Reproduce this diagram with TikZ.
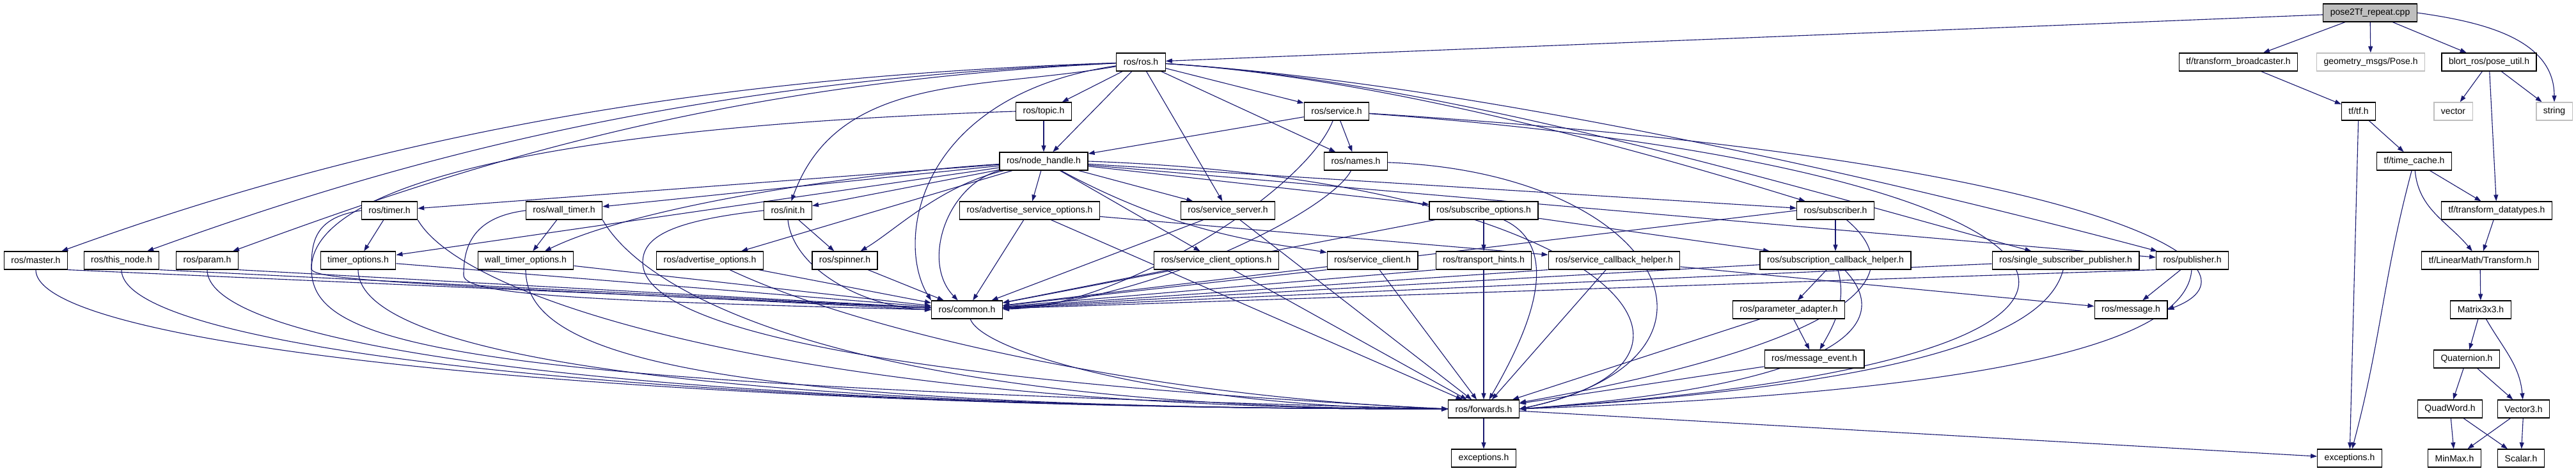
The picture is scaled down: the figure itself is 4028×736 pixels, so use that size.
\documentclass[tikz,border=0pt]{standalone}
\usepackage{fontspec}
\setmainfont{Liberation Sans}
\usetikzlibrary{arrows.meta}
\definecolor{depblue}{HTML}{191970}
\definecolor{extgrey}{HTML}{BFBFBF}
\pgfdeclarelayer{edges}
\pgfsetlayers{edges,main}
\begin{document}
\begin{tikzpicture}[x=0.25pt, y=0.25pt,
    every node/.style={draw=black, fill=white, line width=0.3pt, minimum height=7pt,
      inner xsep=2.75pt, inner ysep=0pt, font=\fontsize{3.5}{4}\selectfont},
    ext/.style={draw=extgrey},
    dep/.style={draw=depblue, line width=0.28pt, -{Triangle[length=2.5pt,width=1.75pt]}},
    bus/.style={out=-90, in=180, out distance=32pt, in distance=300pt}]
  \useasboundingbox (0,0) rectangle (4028,-736);

  \node[fill=extgrey] (cpp) at (3706,-20) {pose2Tf\_repeat.cpp};

  \node (ros) at (1784,-97) {ros/ros.h};
  \node (tfb) at (3500,-97) {tf/transform\_broadcaster.h};
  \node[ext] (pose) at (3707,-97) {geometry\_msgs/Pose.h};
  \node (pu) at (3892,-97) {blort\_ros/pose\_util.h};

  \node (topic) at (1632,-174) {ros/topic.h};
  \node (service) at (2090,-174) {ros/service.h};
  \node (tf) at (3688,-174) {tf/tf.h};
  \node[ext] (vector) at (3836,-174) {vector};
  \node[ext] (string) at (3994,-174) {string};

  \node (nh) at (1632,-252) {ros/node\_handle.h};
  \node (names) at (2120,-252) {ros/names.h};
  \node (tc) at (3775,-252) {tf/time\_cache.h};

  \node (timer) at (609,-329) {ros/timer.h};
  \node (wtimer) at (882,-329) {ros/wall\_timer.h};
  \node (init) at (1232,-329) {ros/init.h};
  \node (aso) at (1610,-329) {ros/advertise\_service\_options.h};
  \node (ss) at (1920,-329) {ros/service\_server.h};
  \node (subo) at (2320,-329) {ros/subscribe\_options.h};
  \node (sub) at (2870,-329) {ros/subscriber.h};
  \node (td) at (3904,-329) {tf/transform\_datatypes.h};

  \node (master) at (56,-407) {ros/master.h};
  \node (thisnode) at (190,-407) {ros/this\_node.h};
  \node (param) at (324,-407) {ros/param.h};
  \node (topt) at (560,-407) {timer\_options.h};
  \node (wtopt) at (822,-407) {wall\_timer\_options.h};
  \node (ao) at (1110,-407) {ros/advertise\_options.h};
  \node (spinner) at (1321,-407) {ros/spinner.h};
  \node (sco) at (1902,-407) {ros/service\_client\_options.h};
  \node (sc) at (2146,-407) {ros/service\_client.h};
  \node (th) at (2320,-407) {ros/transport\_hints.h};
  \node (sch) at (2524,-407) {ros/service\_callback\_helper.h};
  \node (subch) at (2870,-407) {ros/subscription\_callback\_helper.h};
  \node (ssp) at (3230,-407) {ros/single\_subscriber\_publisher.h};
  \node (pub) at (3428,-407) {ros/publisher.h};
  \node (tr) at (3878,-407) {tf/LinearMath/Transform.h};

  \node (common) at (1512,-484) {ros/common.h};
  \node (pa) at (2797,-484) {ros/parameter\_adapter.h};
  \node (msg) at (3332,-484) {ros/message.h};
  \node (m33) at (3879,-484) {Matrix3x3.h};

  \node (me) at (2837,-561) {ros/message\_event.h};
  \node (quat) at (3857,-561) {Quaternion.h};

  \node (fwd) at (2320,-639) {ros/forwards.h};
  \node (qw) at (3831,-639) {QuadWord.h};
  \node (v3) at (3946,-639) {Vector3.h};

  \node (exc) at (2320,-716) {exceptions.h};
  \node (tfexc) at (3674,-716) {exceptions.h};
  \node (minmax) at (3838,-716) {MinMax.h};
  \node (scalar) at (3942,-716) {Scalar.h};

  \begin{pgfonlayer}{edges}
  \draw[dep] (cpp) -- (ros);
  \draw[dep] (cpp) -- (tfb);
  \draw[dep] (cpp) -- (pose);
  \draw[dep] (cpp) -- (pu);
  \draw[dep] (cpp.east) to[out=-8,in=90] (string.north);
  \draw[dep] (tfb) -- (tf);
  \draw[dep] (pu) -- (vector);
  \draw[dep] (pu) -- (string);
  \draw[dep] (pu) -- (td);
  \draw[dep] (tf) -- (tc);
  \draw[dep] (tf) -- (tfexc);
  \draw[dep] (tc) -- (td);
  \draw[dep] (tc) to[out=-85,in=130] (tr);
  \draw[dep] (tc) to[out=-105,in=75] (tfexc);
  \draw[dep] (td) -- (tr);
  \draw[dep] (tr) -- (m33);
  \draw[dep] (m33) -- (quat);
  \draw[dep] (m33) to[out=-60,in=95] (v3);
  \draw[dep] (quat) -- (qw);
  \draw[dep] (quat) -- (v3);
  \draw[dep] (qw) -- (minmax);
  \draw[dep] (qw) -- (scalar);
  \draw[dep] (v3) -- (minmax);
  \draw[dep] (v3) -- (scalar);
  \draw[dep] (fwd) -- (exc);
  \draw[dep] (fwd) -- (tfexc);

  \draw[dep] (ros) .. controls (1100,-120) and (600,-210) .. (master);
  \draw[dep] (ros) .. controls (1100,-125) and (650,-240) .. (thisnode);
  \draw[dep] (ros) .. controls (1100,-130) and (700,-270) .. (param);
  \draw[dep] (ros) -- (topic);
  \draw[dep] (ros) -- (nh);
  \draw[dep] (ros) -- (service);
  \draw[dep] (ros) -- (names);
  \draw[dep] (ros) -- (ss);
  \draw[dep] (ros) to[out=190,in=70] (init);
  \draw[dep] (ros) .. controls (1430,-150) and (1400,-380) .. (common.north west);
  \draw[dep] (ros) .. controls (2150,-120) and (2550,-230) .. (sub);
  \draw[dep] (ros) .. controls (2250,-125) and (2800,-290) .. (ssp);
  \draw[dep] (ros) .. controls (2300,-130) and (2950,-280) .. (pub);

  \draw[dep] (topic) -- (nh);
  \draw[dep] (topic.west) .. controls (800,-200) and (487,-300) .. (487,-420)
    .. controls (487,-540) and (700,-600) .. (fwd.west);

  \draw[dep] (service) -- (nh);
  \draw[dep] (service) -- (names);
  \draw[dep] (service) .. controls (2040,-300) and (1750,-480) .. (common);
  \draw[dep] (service) .. controls (3300,-250) and (3560,-420) .. (msg.east);
  \draw[dep] (service) .. controls (3300,-260) and (3580,-560) .. (fwd.east);

  \draw[dep] (names) .. controls (2080,-330) and (1800,-470) .. (common);
  \draw[dep] (names) .. controls (2600,-270) and (2750,-560) .. (fwd.east);

  \draw[dep] (nh) -- (timer);
  \draw[dep] (nh) -- (wtimer);
  \draw[dep] (nh) -- (init);
  \draw[dep] (nh) -- (aso);
  \draw[dep] (nh) -- (ss);
  \draw[dep] (nh) -- (subo);
  \draw[dep] (nh) -- (sub);
  \draw[dep] (nh) -- (pub);
  \draw[dep] (nh) -- (sco);
  \draw[dep] (nh) -- (ao);
  \draw[dep] (nh) -- (topt);
  \draw[dep] (nh) .. controls (1350,-270) and (1000,-320) .. (wtopt);
  \draw[dep] (nh) .. controls (1470,-290) and (1400,-360) .. (spinner);
  \draw[dep] (nh) .. controls (1850,-370) and (1990,-380) .. (sc);
  \draw[dep] (nh.south west) .. controls (1480,-290) and (1440,-410) .. (common);
  \draw[dep] (nh.east) .. controls (2500,-280) and (2760,-560) .. (fwd.east);

  \draw[dep] (timer) -- (topt);
  \draw[dep] (timer.west) .. controls (490,-340) and (487,-380) .. (487,-420)
    .. controls (487,-440) and (700,-445) .. (common.west);
  \draw[dep] (timer.south east) to[out=-60,in=180,out distance=37pt,in distance=250pt] (fwd.west);

  \draw[dep] (wtimer) -- (wtopt);
  \draw[dep] (wtimer.west) .. controls (735,-340) and (725,-390) .. (725,-430)
    .. controls (725,-460) and (900,-470) .. (common.west);
  \draw[dep] (wtimer.south east) to[out=-60,in=180,out distance=37pt,in distance=225pt] (fwd.west);

  \draw[dep] (master.south east) -- (common);
  \draw[dep] (master.south) to[bus] (fwd.west);
  \draw[dep] (thisnode.south east) -- (common);
  \draw[dep] (thisnode.south) to[bus] (fwd.west);
  \draw[dep] (param.south east) -- (common);
  \draw[dep] (param.south) to[bus] (fwd.west);
  \draw[dep] (topt) -- (common);
  \draw[dep] (topt.south) to[bus] (fwd.west);
  \draw[dep] (wtopt) -- (common);
  \draw[dep] (wtopt.south) to[bus] (fwd.west);

  \draw[dep] (ao) -- (common);
  \draw[dep] (ao) .. controls (1350,-520) and (1800,-620) .. (fwd.west);

  \draw[dep] (init) -- (spinner);
  \draw[dep] (init.south) .. controls (1240,-420) and (1350,-480) .. (common.west);
  \draw[dep] (init.west) .. controls (1050,-345) and (1005,-370) .. (1005,-410)
    .. controls (1005,-500) and (1300,-590) .. (fwd.west);
  \draw[dep] (spinner) -- (common);

  \draw[dep] (aso) -- (common);
  \draw[dep] (aso) -- (fwd);
  \draw[dep] (aso) -- (sch);

  \draw[dep] (ss) -- (common);
  \draw[dep] (ss) -- (fwd);
  \draw[dep] (sco) -- (common);
  \draw[dep] (sco) -- (fwd);
  \draw[dep] (sc.south west) -- (common);
  \draw[dep] (sc) -- (fwd);
  \draw[dep] (th.south west) -- (common);
  \draw[dep] (th) -- (fwd);
  \draw[dep] (sch.south west) -- (common);
  \draw[dep] (sch) -- (fwd);
  \draw[dep] (sch) -- (msg);

  \draw[dep] (subo) -- (th);
  \draw[dep] (subo) -- (subch);
  \draw[dep] (subo) -- (common);
  \draw[dep] (subo) to[out=-25,in=60] (fwd);

  \draw[dep] (sub) -- (subch);
  \draw[dep] (sub.west) -- (common);
  \draw[dep] (sub) to[out=-40,in=10] (fwd);

  \draw[dep] (subch) -- (pa);
  \draw[dep] (subch) to[out=-75,in=60] (me);
  \draw[dep] (subch) .. controls (2960,-500) and (2900,-600) .. (fwd.east);
  \draw[dep] (subch) -- (common);

  \draw[dep] (pa) -- (me);
  \draw[dep] (pa) -- (fwd);
  \draw[dep] (me) -- (fwd);

  \draw[dep] (ssp) -- (common);
  \draw[dep] (ssp) .. controls (3200,-520) and (3000,-600) .. (fwd.east);
  \draw[dep] (pub.south west) -- (common);
  \draw[dep] (pub) .. controls (3420,-520) and (3200,-610) .. (fwd.east);
  \draw[dep] (pub) -- (msg);

  \draw[dep] (common) to[out=-70,in=180,out distance=15pt,in distance=100pt] (fwd.west);
  \end{pgfonlayer}
\end{tikzpicture}
\end{document}
